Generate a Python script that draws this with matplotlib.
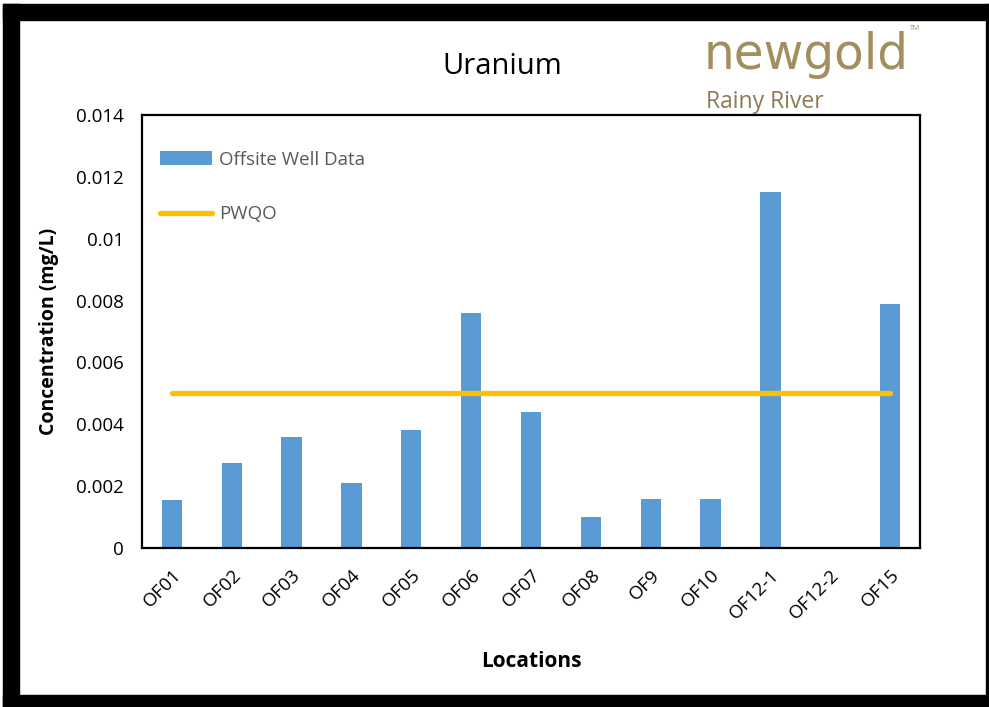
import matplotlib
matplotlib.use("Agg")
import matplotlib.pyplot as plt
import numpy as np
from matplotlib.patches import Rectangle

categories = ["OF01", "OF02", "OF03", "OF04", "OF05", "OF06", "OF07", "OF08",
              "OF9", "OF10", "OF12-1", "OF12-2", "OF15"]
values = [0.00155, 0.00275, 0.0036, 0.0021, 0.0038, 0.0076, 0.0044, 0.0010,
          0.0016, 0.0016, 0.0115, np.nan, 0.0079]
pwqo = [0.005] * len(categories)
yticks = [0, 0.002, 0.004, 0.006, 0.008, 0.01, 0.012, 0.014]
ytick_labels = ["0", "0.002", "0.004", "0.006", "0.008", "0.01", "0.012", "0.014"]

plt.rcParams['font.family'] = ['Open Sans', 'DejaVu Sans']

W, H = 989, 707
fig = plt.figure(figsize=(W / 100, H / 100), dpi=100)
fig.patch.set_facecolor("white")

# black frame
def fr(x0, y0, x1, y1):
    fig.patches.append(Rectangle((x0 / W, 1 - y1 / H), (x1 - x0) / W, (y1 - y0) / H,
                                 transform=fig.transFigure, color="black", zorder=0))
fr(3, 4, 989, 20)
fr(3, 4, 19, 707)
fr(986, 4, 989, 707)
fr(3, 695, 989, 707)

ax = fig.add_axes([142 / W, 1 - 548 / H, (920 - 142) / W, (548 - 115) / H])
x = np.arange(len(categories))
bars = ax.bar(x, values, width=0.34, color="#5B9BD5", label="Offsite Well Data", zorder=2)
line, = ax.plot(x, pwqo, color="#FFC000", linewidth=3.8, label="PWQO", zorder=3,
                solid_capstyle="round")

ax.set_xlim(-0.5, len(categories) - 0.5)
ax.set_ylim(0, 0.014)
ax.set_yticks(yticks)
ax.set_yticklabels(ytick_labels, fontsize=13.5, color="#000000")
ax.set_xticks(x)
ax.set_xticklabels(categories, rotation=45, ha="right", rotation_mode="anchor",
                   fontsize=13.5, color="#000000")
ax.tick_params(axis="both", length=0)
ax.tick_params(axis="y", pad=13)
ax.tick_params(axis="x", pad=13)
for s in ax.spines.values():
    s.set_linewidth(1.6)
    s.set_color("black")

ax.set_ylabel("Concentration (mg/L)", fontsize=14, fontweight="bold", labelpad=12)
ax.set_xlabel("Locations", fontsize=15, fontweight="bold", labelpad=20)

leg = ax.legend([bars, line], ["Offsite Well Data", "PWQO"], loc="upper left",
                bbox_to_anchor=(0.023, 0.918), frameon=False, borderpad=0,
                fontsize=13.5, handlelength=2.8, handletextpad=0.35, labelspacing=1.95,
                borderaxespad=0)
for t in leg.get_texts():
    t.set_color("#595959")

fig.text(502 / W, 1 - 67 / H, "Uranium", fontsize=21, ha="center", va="center",
         color="#000000")

# logo
fig.text(704 / W, 1 - 55 / H, "newgold", fontsize=35, ha="left", va="center",
         color="#A38F5E", family="DejaVu Sans")
fig.text(910 / W, 1 - 29 / H, "TM", fontsize=5, ha="left", va="center", color="#A38F5E")
fig.text(706 / W, 1 - 102 / H, "Rainy River", fontsize=16.5, ha="left", va="center",
         color="#8C7A55")

fig.savefig("out.png", dpi=100)
